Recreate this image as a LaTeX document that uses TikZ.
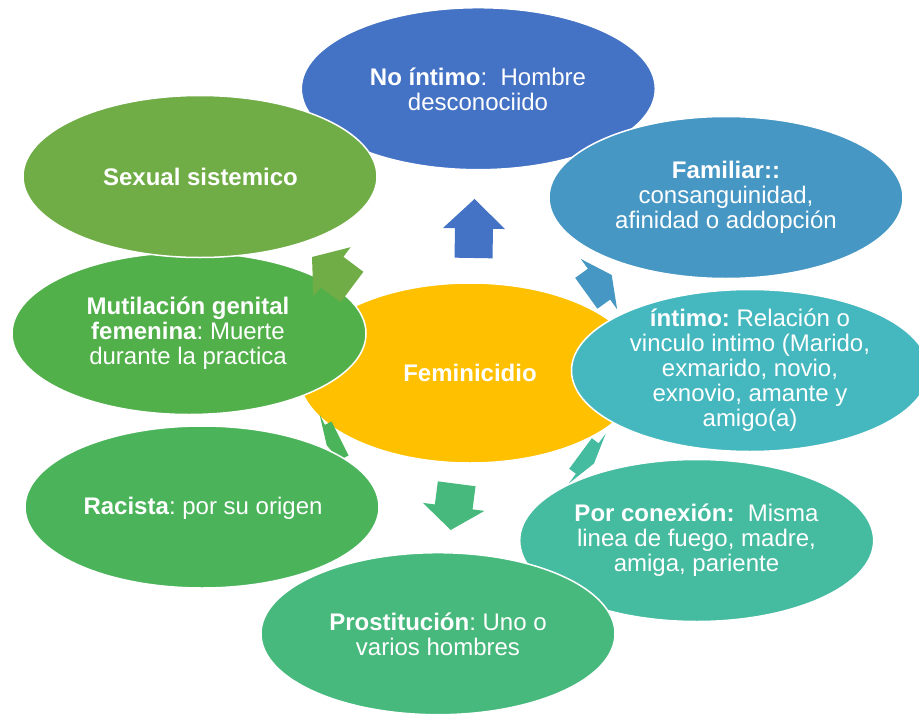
\documentclass[tikz,border=0pt]{standalone}
\usepackage{fontspec}
\setmainfont{Liberation Sans}
\usetikzlibrary{calc,shapes.geometric}
\frenchspacing
\definecolor{cCenter}{HTML}{FFC000}
\definecolor{cNoInt}{HTML}{4472C4}
\definecolor{cFam}{HTML}{4697C3}
\definecolor{cInt}{HTML}{45B8BF}
\definecolor{cCon}{HTML}{45BBA0}
\definecolor{cPro}{HTML}{47B97D}
\definecolor{cRac}{HTML}{4BB45B}
\definecolor{cMut}{HTML}{52B04B}
\definecolor{cSex}{HTML}{70AD47}
\tikzset{
  bubble/.style={ellipse, draw=white, line width=1.5pt, inner sep=0pt,
    minimum width=354pt, minimum height=162pt},
  txt/.style={text=white, align=center, inner sep=0pt,
    font=\fontsize{24}{25}\selectfont\frenchspacing},
}
\newcommand\blockarrow[3]{%
  \path ($(#1)!0.5!(#2)$) coordinate (#1m);
  \fill[#3] ($(#1)!19pt!90:(#2)$) -- ($(#1m)!19pt!90:(#2)$) -- ($(#1m)!31pt!90:(#2)$)
    -- (#2) -- ($(#1m)!31pt!-90:(#2)$) -- ($(#1m)!19pt!-90:(#2)$)
    -- ($(#1)!19pt!-90:(#2)$) -- cycle;}
\begin{document}
\begin{tikzpicture}[x=1pt,y=-1pt]
\useasboundingbox (0,0) rectangle (919,715);
% centre
\node[bubble, fill=cCenter, minimum width=344pt, minimum height=180pt] (c) at (470,373) {};
\node[txt] (tc) at (470,373) {\textbf{Feminicidio}};
% arrow coordinates
\coordinate (a1) at (473.5,258); \coordinate (b1) at (474.5,199);
\coordinate (a2) at (586.3,293.3); \coordinate (b2) at (611.7,275);
\coordinate (a4) at (580.5,453.5); \coordinate (b4) at (594,463.5);
\coordinate (a5) at (456.7,483.8); \coordinate (b5) at (450.7,530);
\coordinate (a6) at (340.1,438.5); \coordinate (b6) at (326.7,445.2);
\coordinate (a8) at (352,287); \coordinate (b8) at (312,257);
% 1 No intimo
\blockarrow{a1}{b1}{cNoInt}
\node[bubble, fill=cNoInt] (n1) at (478.3,88.7) {};
\node[txt] (t1) at (478,89.2) {\textbf{No íntimo}:\ \ Hombre\\desconociido};
% 2 Familiar
\blockarrow{a2}{b2}{cFam}
\node[bubble, fill=cFam] (n2) at (726,197.5) {};
\node[txt] (t2) at (726,197.5) {\textbf{Familiar::}\\consanguinidad,\\afinidad o addopción};
% 3 intimo
\node[bubble, fill=cInt, minimum width=357pt] (n3) at (750,370.5) {};
\node[txt] (t3) at (750,370.5) {\textbf{íntimo:} Relación o\\vinculo intimo (Marido,\\exmarido, novio,\\exnovio, amante y\\amigo(a)};
% 4 Por conexion
\blockarrow{a4}{b4}{cCon}
\node[bubble, fill=cCon] (n4) at (696.7,540.5) {};
\node[txt] (t4) at (696.5,540.5) {\textbf{Por conexión:}\ \ Misma\\linea de fuego, madre,\\amiga, pariente};
% 5 Prostitucion
\blockarrow{a5}{b5}{cPro}
\node[bubble, fill=cPro] (n5) at (438,633.7) {};
\node[txt] (t5) at (438,634.7) {\textbf{Prostitución}: Uno o\\varios hombres};
% 6 Racista
\blockarrow{a6}{b6}{cRac}
\node[bubble, fill=cRac] (n6) at (202,507) {};
\node[txt] (t6) at (203,508) {\textbf{Racista}: por su origen};
% 7 Mutilacion
\node[bubble, fill=cMut] (n7) at (189,333.5) {};
\node[txt] (t7) at (188,333.5) {\textbf{Mutilación genital}\\\textbf{femenina}: Muerte\\durante la practica};
% 8 Sexual
\blockarrow{a8}{b8}{cSex}
\node[bubble, fill=cSex] (n8) at (200,176.5) {};
\node[txt] (t8) at (200.5,176.7) {\textbf{Sexual sistemico}};
\end{tikzpicture}
\end{document}
